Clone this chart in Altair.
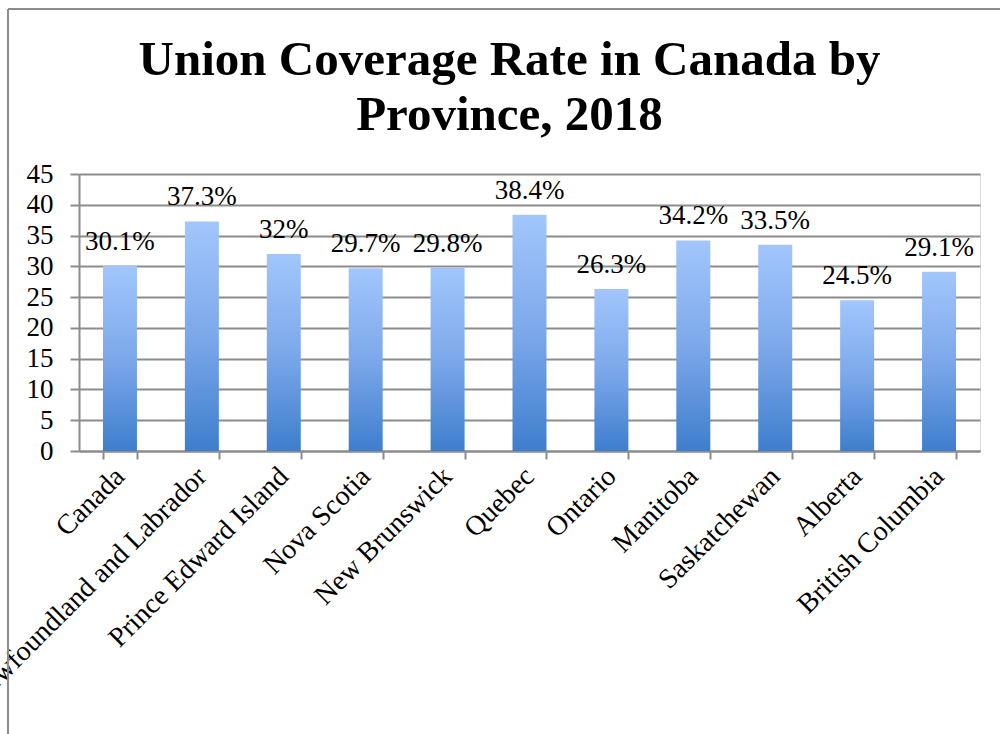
import altair as alt
import pandas as pd

provinces = ["Canada", "Newfoundland and Labrador", "Prince Edward Island", "Nova Scotia",
             "New Brunswick", "Quebec", "Ontario", "Manitoba", "Saskatchewan", "Alberta",
             "British Columbia"]
rates = [30.1, 37.3, 32, 29.7, 29.8, 38.4, 26.3, 34.2, 33.5, 24.5, 29.1]
y_ticks = [0, 5, 10, 15, 20, 25, 30, 35, 40, 45]

df = pd.DataFrame({"province": provinces, "rate": rates})

GRAY = "#8c8c8c"
SERIF = "Liberation Serif"

x_enc = alt.X("province:N", sort=provinces, title=None,
              scale=alt.Scale(paddingInner=0.585, paddingOuter=0.2925),
              axis=alt.Axis(labelAngle=-45, labelFont=SERIF, labelFontSize=28,
                            labelColor="black", labelPadding=13, labelAlign="right",
                            labelBaseline="middle", tickBand="extent",
                            tickSize=8, tickColor=GRAY, tickWidth=2, domainColor=GRAY,
                            domainWidth=2, labelLimit=400, labelOverlap=False))
y_enc = alt.Y("rate:Q", title=None,
              scale=alt.Scale(domain=[0, 45], nice=False),
              axis=alt.Axis(values=y_ticks, labelFont=SERIF, labelFontSize=27,
                            labelColor="black", tickSize=9, tickColor=GRAY, tickWidth=2,
                            domainColor=GRAY, domainWidth=2, gridColor=GRAY,
                            gridWidth=2, grid=True, labelPadding=17,
                            labelOverlap=False, labelFlush=False))

gradient = alt.Gradient(gradient="linear", x1=0, y1=0, x2=0, y2=1,
                        stops=[alt.GradientStop(color="#a2c6fc", offset=0),
                               alt.GradientStop(color="#7ca8ea", offset=0.5),
                               alt.GradientStop(color="#3e7ecd", offset=1)])

bars = alt.Chart(df).mark_bar(color=gradient).encode(x=x_enc, y=y_enc)

labels = alt.Chart(df).transform_calculate(
    lbl="datum.rate + '%'"
).mark_text(font=SERIF, fontSize=27, baseline="alphabetic", dy=-16, color="black").encode(
    x=x_enc,
    y=y_enc,
    text="lbl:N",
)

frame_top = alt.Chart(df).mark_rule(color=GRAY, strokeWidth=2).encode(
    x=alt.value(-71), x2=alt.value(960), y=alt.value(-165))
frame_left = alt.Chart(df).mark_rule(color=GRAY, strokeWidth=2).encode(
    x=alt.value(-71), y=alt.value(-165), y2=alt.value(600))

chart = alt.layer(frame_top, frame_left, bars, labels).properties(
    width=901, height=277,
    padding={"left": 79, "top": 174, "right": 20, "bottom": 283},
    autosize=alt.AutoSizeParams(type="none"),
    title=alt.TitleParams(
        text=["Union Coverage Rate in Canada by", "Province, 2018"],
        font=SERIF, fontSize=49, fontWeight="bold", lineHeight=55,
        anchor="middle", color="black", offset=-132, dx=-20,
    ),
).configure_view(stroke=None).configure(background="white")

chart.save("out.html", embed_options={"renderer": "svg", "actions": False})
